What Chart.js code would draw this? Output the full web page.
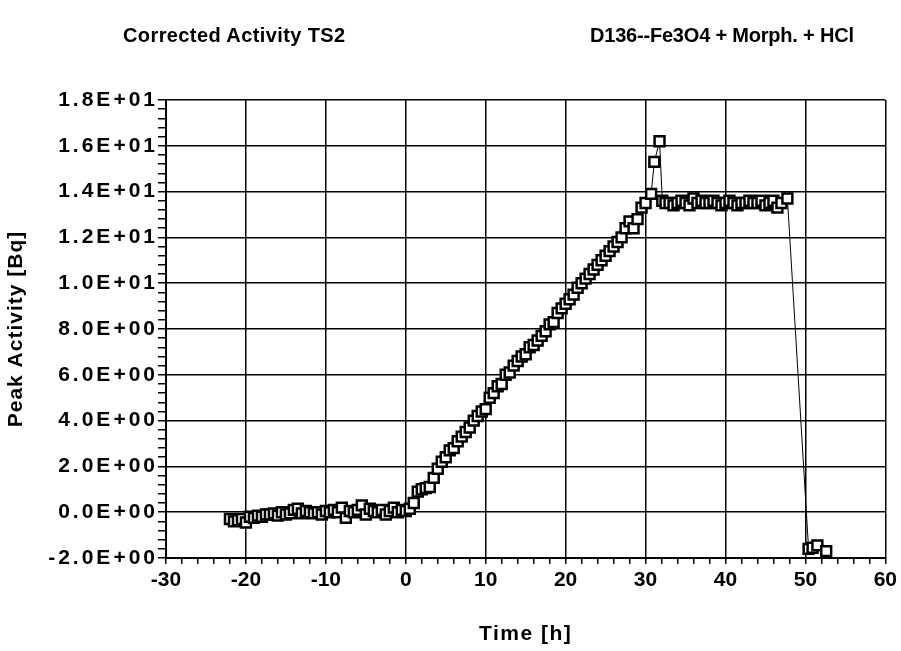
<!DOCTYPE html>
<html>
<head>
<meta charset="utf-8">
<script src="https://cdn.jsdelivr.net/npm/chart.js@4.4.1/dist/chart.umd.min.js"></script>
<style>
    body { margin: 0; background: #fff; }
    .wrap { position: relative; width: 901px; height: 651px; }
    .title { position: absolute; top: 24px; font: bold 20px "Liberation Sans", Arial, sans-serif; color: #000; white-space: nowrap; }
</style>
</head>
<body>
<div class="wrap">
    <canvas id="chart" width="901" height="651"></canvas>
    <div class="title" style="left:123px; letter-spacing:0.4px">Corrected Activity TS2</div>
    <div class="title" style="left:590px; letter-spacing:-0.2px">D136--Fe3O4 + Morph. + HCl</div>
</div>
<script>
// Time [h] and corrected peak activity [Bq]
const timeBefore = [-22, -21.5, -21, -20.5, -20, -19.5, -19, -18.5, -18, -17.5, -17, -16.5, -16, -15.5, -15,
    -14.5, -14, -13.5, -13, -12.5, -12, -11.5, -11, -10.5, -10, -9.5, -9, -8.5, -8, -7.5, -7, -6.5, -6, -5.5,
    -5, -4.5, -4, -3.5, -3, -2.5, -2, -1.5, -1, -0.5, 0];
const activityBefore = [-0.3, -0.4, -0.35, -0.3, -0.45, -0.2, -0.25, -0.15, -0.2, -0.1, -0.1, -0.05, -0.15, 0.0, -0.1,
    -0.05, 0.1, 0.15, -0.05, 0.05, 0.0, -0.05, 0.0, -0.1, 0.05, 0.0, 0.1, 0.0, 0.2, -0.25, 0.05, 0.0, 0.1, 0.3,
    -0.1, 0.15, 0.05, 0.0, 0.1, -0.1, 0.05, 0.2, 0.0, 0.1, 0.05];

const timeRise = [0.5, 1, 1.5, 2, 2.5, 3, 3.5, 4, 4.5, 5, 5.5, 6, 6.5, 7, 7.5, 8, 8.5, 9, 9.5, 10,
    10.5, 11, 11.5, 12, 12.5, 13, 13.5, 14, 14.5, 15, 15.5, 16, 16.5, 17, 17.5, 18, 18.5, 19, 19.5, 20,
    20.5, 21, 21.5, 22, 22.5, 23, 23.5, 24, 24.5, 25, 25.5, 26, 26.5, 27, 27.5, 28, 28.5, 29, 29.5, 30,
    30.7, 31.1, 31.75];
const activityRise = [0.15, 0.4, 0.9, 1.0, 1.05, 1.1, 1.5, 1.9, 2.2, 2.4, 2.7, 2.8, 3.1, 3.3, 3.5, 3.7, 4.0, 4.2, 4.4, 4.5,
    5.0, 5.2, 5.5, 5.6, 6.0, 6.1, 6.4, 6.6, 6.8, 6.9, 7.2, 7.3, 7.5, 7.7, 7.9, 8.2, 8.3, 8.7, 8.9, 9.1,
    9.3, 9.5, 9.8, 10.0, 10.2, 10.4, 10.6, 10.8, 11.0, 11.2, 11.4, 11.6, 11.8, 12.0, 12.4, 12.7, 12.4, 12.8, 13.3, 13.5,
    13.9, 15.3, 16.2];

const timePlateau = [32.1, 32.5, 33, 33.5, 34, 34.5, 35, 35.5, 36, 36.5, 37, 37.5, 38, 38.5, 39, 39.5,
    40, 40.5, 41, 41.5, 42, 42.5, 43, 43.5, 44, 44.5, 45, 45.5, 46, 46.5, 47, 47.75];
const activityPlateau = [13.6, 13.5, 13.5, 13.4, 13.5, 13.6, 13.5, 13.4, 13.7, 13.5, 13.6, 13.5, 13.5, 13.6, 13.5, 13.4,
    13.5, 13.6, 13.5, 13.4, 13.5, 13.5, 13.6, 13.5, 13.5, 13.6, 13.4, 13.5, 13.6, 13.3, 13.5, 13.7];

const timeAfter = [50.4, 50.9, 51.5, 52.6];
const activityAfter = [-1.6, -1.55, -1.45, -1.7];

const yTicks = [-2, 0, 2, 4, 6, 8, 10, 12, 14, 16, 18];
const xTicks = [-30, -20, -10, 0, 10, 20, 30, 40, 50, 60];

const times = [...timeBefore, ...timeRise, ...timePlateau, ...timeAfter];
const activity = [...activityBefore, ...activityRise, ...activityPlateau, ...activityAfter];
const points = times.map((t, i) => ({ x: t, y: activity[i] }));

function sci(v) {
    if (Math.abs(v) < 1e-9) return '0.0E+00';
    const e = Math.floor(Math.log10(Math.abs(v)) + 1e-9);
    const m = v / Math.pow(10, e);
    return m.toFixed(1) + 'E' + (e < 0 ? '-' : '+') + String(Math.abs(e)).padStart(2, '0');
}
const isOn = (v, list) => list.some(t => Math.abs(t - v) < 1e-6);

const font = { family: '"Liberation Sans", Arial, sans-serif', size: 21, weight: 'bold' };

// the old spreadsheet draws its axis texts a bit wider, so space the letters out
function spaced(fn, px) {
    return function (...args) {
        const ctx = this.ctx;
        ctx.save();
        ctx.letterSpacing = px + 'px';
        fn.apply(this, args);
        ctx.restore();
    };
}
const letterSpacingPlugin = {
    id: 'letterSpacing',
    afterLayout(chart) {
        const x = chart.scales.x, y = chart.scales.y;
        if (y._spaced) return;
        y.drawLabels = spaced(y.drawLabels, 3);
        y.drawTitle = spaced(y.drawTitle, 1);
        x.drawTitle = spaced(x.drawTitle, 1.5);
        y._spaced = true;
    }
};

new Chart(document.getElementById('chart'), {
    type: 'line',
    data: {
        datasets: [{
            data: points,
            borderColor: '#000',
            borderWidth: 1,
            pointStyle: 'rect',
            pointRadius: 7,
            pointBorderWidth: 2.5,
            pointBackgroundColor: '#fff',
            pointBorderColor: '#000',
            tension: 0
        }]
    },
    options: {
        responsive: false,
        animation: false,
        layout: { padding: { top: 100, right: 15, left: 0, bottom: 0 } },
        plugins: { legend: { display: false }, tooltip: { enabled: false } },
        scales: {
            x: {
                type: 'linear',
                min: -30, max: 60,
                afterFit: s => { s.height = 93; },
                ticks: {
                    stepSize: 2, autoSkip: false, maxRotation: 0, color: '#000', font: font, padding: 4,
                    callback: v => isOn(v, xTicks) ? String(Math.round(v)) : ''
                },
                grid: {
                    color: c => isOn(c.tick.value, xTicks) ? '#000' : 'rgba(0,0,0,0)',
                    tickColor: '#000', tickLength: 6, lineWidth: 1.5
                },
                border: { color: '#000', width: 2 },
                title: { display: true, text: 'Time [h]', color: '#000', font: font, padding: { top: 4 } }
            },
            y: {
                min: -2, max: 18,
                afterFit: s => { s.width = 166; },
                ticks: {
                    stepSize: 0.4, autoSkip: false, color: '#000', font: font, padding: 0,
                    callback: v => isOn(v, yTicks) ? sci(v) : ''
                },
                grid: {
                    color: c => isOn(c.tick.value, yTicks) ? '#000' : 'rgba(0,0,0,0)',
                    tickColor: '#000', tickLength: 8, lineWidth: 1.5
                },
                border: { color: '#000', width: 2 },
                title: { display: true, text: 'Peak Activity [Bq]', color: '#000', font: font, padding: { top: 4, bottom: 0 } }
            }
        }
    },
    plugins: [letterSpacingPlugin]
});
</script>
</body>
</html>
